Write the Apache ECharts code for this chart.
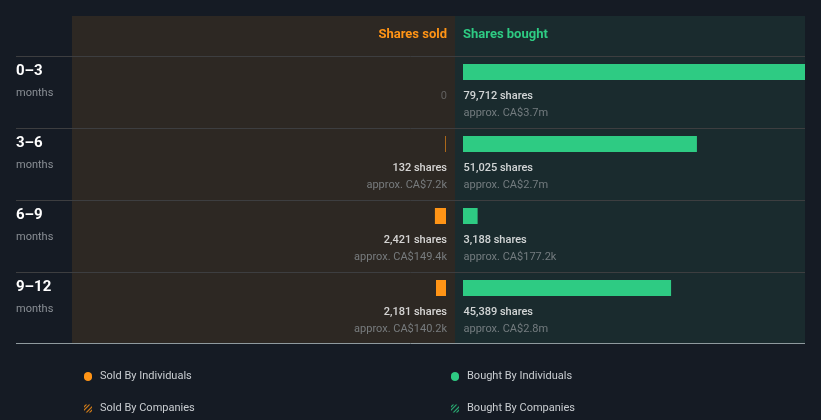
<!DOCTYPE html>
<html><head><meta charset="utf-8">
<script src="https://cdn.jsdelivr.net/npm/echarts@6/dist/echarts.min.js"></script>
<style>html,body{margin:0;padding:0;background:#151b24;}#c{width:821px;height:420px;}</style>
</head><body><div id="c"></div>
<script>
const categories = ['0–3', '3–6', '6–9', '9–12'];
const categorySub = 'months';
const soldShares = [0, 132, 2421, 2181];
const soldValue = ['', 'CA$7.2k', 'CA$149.4k', 'CA$140.2k'];
const boughtShares = [79712, 51025, 3188, 45389];
const boughtValue = ['CA$3.7m', 'CA$2.7m', 'CA$177.2k', 'CA$2.8m'];
const headers = ['Shares sold', 'Shares bought'];
const legendNames = ['Sold By Individuals', 'Sold By Companies', 'Bought By Individuals', 'Bought By Companies'];

const ORANGE = '#ff9416', GREEN = '#2ecb83';
const FONT = 'Roboto';
const fmt = v => v.toLocaleString('en-US');
const axisMax = 74600;
const hatch = 'path://M0,6L6,0L8,0L0,8Z M2,10L10,2L10,4L4,10Z M0,2L2,0L4,0L0,4Z M6,10L10,6L10,8L8,10Z';
const pill = 'path://M4,0C6.2,0 8,1.5 8,3.5L8,5.5C8,7.5 6.2,9 4,9C1.8,9 0,7.5 0,5.5L0,3.5C0,1.5 1.8,0 4,0Z';

const chart = echarts.init(document.getElementById('c'));
const rich = {
  a: { color: '#ffffff', fontSize: 11, fontWeight: 500, fontFamily: FONT, lineHeight: 17 },
  b: { color: '#8a9094', fontSize: 11, fontFamily: FONT, lineHeight: 17 },
  z: { color: '#6e6e6e', fontSize: 11, fontFamily: FONT, lineHeight: 17 }
};
const lines = [56, 128, 200, 272].map(y => ({
  type: 'line', shape: { x1: 16, y1: y + 0.5, x2: 805, y2: y + 0.5 }, style: { stroke: '#3d3e40', lineWidth: 1 }, z: 1
}));
const legendCommon = { top: 371, orient: 'vertical', itemGap: 21, itemWidth: 8, itemHeight: 9, padding: 0,
  textStyle: { color: '#c9cdd1', fontSize: 11, fontFamily: FONT, padding: [0, 0, 0, 3] }, selectedMode: false };

chart.setOption({
  backgroundColor: '#151b24',
  textStyle: { fontFamily: FONT },
  animation: false,
  graphic: [
    { type: 'rect', shape: { x: 72, y: 16, width: 383, height: 327 }, style: { fill: '#2d2823' }, z: 0 },
    { type: 'rect', shape: { x: 455, y: 16, width: 350, height: 327 }, style: { fill: '#1a2b2e' }, z: 0 },
    ...lines,
    { type: 'line', shape: { x1: 16, y1: 343.5, x2: 805, y2: 343.5 }, style: { stroke: '#8f9a9e', lineWidth: 1 }, z: 1 },
    { type: 'text', x: 447, y: 35, style: { text: headers[0], fill: ORANGE, font: 'bold 13px Roboto', align: 'right', verticalAlign: 'middle' }, z: 3 },
    { type: 'text', x: 463, y: 35, style: { text: headers[1], fill: GREEN, font: 'bold 13px Roboto', align: 'left', verticalAlign: 'middle' }, z: 3 }
  ],
  legend: [
    Object.assign({ left: 84, data: [{ name: legendNames[0], icon: pill }, { name: legendNames[1], icon: hatch }] }, legendCommon),
    Object.assign({ left: 451, data: [{ name: legendNames[2], icon: pill }, { name: legendNames[3], icon: hatch }] }, legendCommon)
  ],
  grid: [
    { left: 104, right: 375, top: 36, bottom: 96 },
    { left: 463, right: 16, top: 36, bottom: 96 }
  ],
  xAxis: [
    { gridIndex: 0, type: 'value', inverse: true, min: 0, max: axisMax, show: false },
    { gridIndex: 1, type: 'value', min: 0, max: axisMax, show: false }
  ],
  yAxis: [
    { gridIndex: 0, type: 'category', inverse: true, data: categories,
      axisLine: { show: false }, axisTick: { show: false }, splitLine: { show: false },
      axisLabel: { align: 'left', margin: 88,
        formatter: v => `{s| }\n{a|${v}}\n{b|${categorySub}}`,
        rich: {
          s: { fontSize: 10, lineHeight: 20 },
          a: { color: '#ffffff', fontSize: 15, fontWeight: 'bold', fontFamily: FONT, lineHeight: 22 },
          b: { color: '#8a8f95', fontSize: 11, fontFamily: FONT, lineHeight: 22 }
        } } },
    { gridIndex: 1, type: 'category', inverse: true, data: categories, show: false }
  ],
  series: [
    { name: legendNames[0], type: 'bar', xAxisIndex: 0, yAxisIndex: 0, data: soldShares, barWidth: 16,
      itemStyle: { color: ORANGE }, clip: true },
    { name: legendNames[1], type: 'scatter', xAxisIndex: 0, yAxisIndex: 0, data: [], itemStyle: { color: ORANGE } },
    { name: legendNames[2], type: 'bar', xAxisIndex: 1, yAxisIndex: 1, data: boughtShares, barWidth: 16,
      itemStyle: { color: GREEN }, clip: true },
    { name: legendNames[3], type: 'scatter', xAxisIndex: 1, yAxisIndex: 1, data: [], itemStyle: { color: GREEN } },
    { type: 'scatter', xAxisIndex: 0, yAxisIndex: 0, symbolSize: 1, itemStyle: { color: 'transparent' },
      data: soldShares.map((v, i) => [0, i]), silent: true,
      label: { show: true, position: 'left', distance: 0, offset: [1.5, 33], align: 'right',
        formatter: p => { const i = p.dataIndex; return soldShares[i] === 0 ? `{z|0}\n{b| }` : `{a|${fmt(soldShares[i])} shares}\n{b|approx. ${soldValue[i]}}`; },
        rich } },
    { type: 'scatter', xAxisIndex: 1, yAxisIndex: 1, symbolSize: 1, itemStyle: { color: 'transparent' },
      data: boughtShares.map((v, i) => [0, i]), silent: true,
      label: { show: true, position: 'right', distance: 0, offset: [0, 33], align: 'left',
        formatter: p => { const i = p.dataIndex; return `{a|${fmt(boughtShares[i])} shares}\n{b|approx. ${boughtValue[i]}}`; },
        rich } }
  ]
});
</script></body></html>
